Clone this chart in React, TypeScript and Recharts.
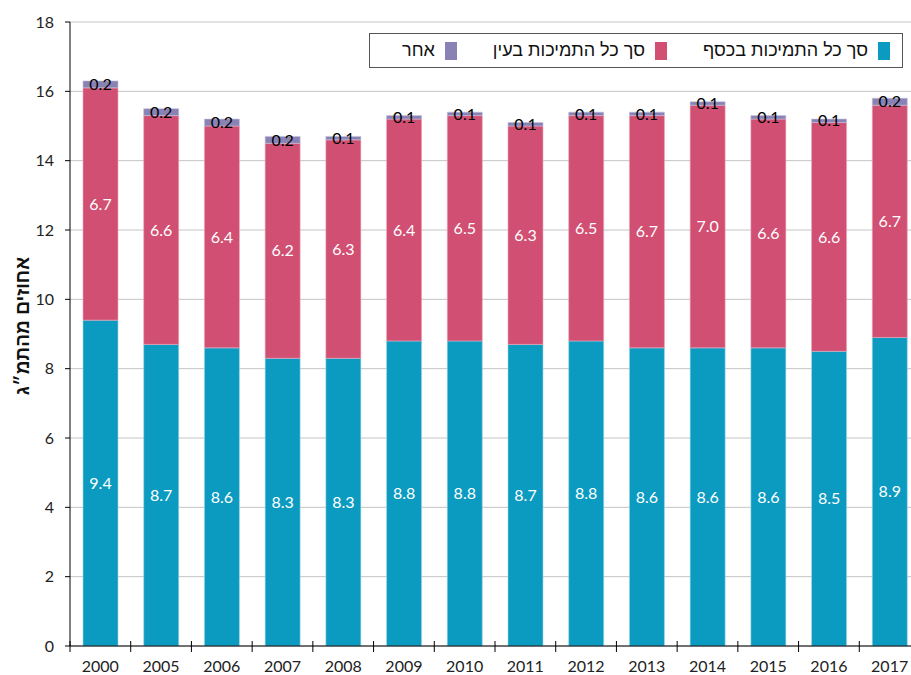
import { BarChart, Bar, XAxis, YAxis, CartesianGrid, Legend, LabelList } from 'recharts';

// years on the category axis
const years = ['2000', '2005', '2006', '2007', '2008', '2009', '2010', '2011', '2012', '2013', '2014', '2015', '2016', '2017'];
// % of GDP
const cash = [9.4, 8.7, 8.6, 8.3, 8.3, 8.8, 8.8, 8.7, 8.8, 8.6, 8.6, 8.6, 8.5, 8.9];
const inKind = [6.7, 6.6, 6.4, 6.2, 6.3, 6.4, 6.5, 6.3, 6.5, 6.7, 7.0, 6.6, 6.6, 6.7];
const other = [0.2, 0.2, 0.2, 0.2, 0.1, 0.1, 0.1, 0.1, 0.1, 0.1, 0.1, 0.1, 0.1, 0.2];
const yTicks = [0, 2, 4, 6, 8, 10, 12, 14, 16, 18];

const seriesNames = {
	cash: 'סך כל התמיכות בכסף',
	inKind: 'סך כל התמיכות בעין',
	other: 'אחר',
};

const COLORS = { cash: '#0B9AC0', inKind: '#D14F72', other: '#8982B5' };

const data = years.map((year, i) => ({
	year,
	cash: cash[i],
	inKind: inKind[i],
	other: other[i],
}));

const W = 925;
const H = 675;
const M = { top: 22, right: 5, bottom: 0, left: 0 };
const X_AXIS_H = 29;
const Y_AXIS_W = 70;
const AXIS_Y = H - M.bottom - X_AXIS_H;
const STEP = (W - M.left - M.right - Y_AXIS_W) / years.length;

const FONT = "Lato, 'Liberation Sans', sans-serif";
const HEB = "'Liberation Sans', 'DejaVu Sans', sans-serif";

function XTick(props: any) {
	const { x, payload } = props;
	return (
		<g>
			<line x1={x - STEP / 2} x2={x - STEP / 2} y1={AXIS_Y - 5} y2={AXIS_Y + 6} stroke="#000" />
			<text x={x} y={AXIS_Y + 26} textAnchor="middle" fontSize={16} fill="#222" fontFamily={FONT}>
				{payload.value}
			</text>
		</g>
	);
}

function LegendBox() {
	const items: [keyof typeof COLORS, string][] = [
		['cash', seriesNames.cash],
		['inKind', seriesNames.inKind],
		['other', seriesNames.other],
	];
	return (
		<div dir="rtl" style={{
			border: '1px solid #555',
			background: '#fff',
			width: 534,
			height: 35,
			boxSizing: 'border-box',
			display: 'flex',
			alignItems: 'center',
			padding: '0 12px 0 0',
			gap: 36,
			fontFamily: HEB,
			fontSize: 18,
			color: '#111',
		}}>
			{items.map(([k, name]) => (
				<div key={k} style={{ display: 'flex', alignItems: 'center', gap: 10 }}>
					<span style={{ display: 'inline-block', width: 12, height: 18, background: COLORS[k] }} />
					<span>{name}</span>
				</div>
			))}
		</div>
	);
}

function YLabel(props: any) {
	const vb = props.viewBox || {};
	const cy = (vb.y ?? M.top) + (vb.height ?? 600) / 2 - 8;
	return (
		<text x={22} y={cy} transform={`rotate(-90 22 ${cy})`} textAnchor="middle" dominantBaseline="central"
			fontSize={19} fontWeight="bold" fill="#111" fontFamily={HEB}>
			אחוזים מהתמ״ג
		</text>
	);
}

export default function App() {
	return (
		<div style={{ position: 'absolute', top: 0, left: 0, width: 911, height: 675, overflow: 'hidden', background: '#fff' }}>
			<BarChart width={W} height={H} data={data} margin={M} barSize={35}>
				<CartesianGrid vertical={false} stroke="#c4c4c4" />
				<XAxis
					dataKey="year"
					height={X_AXIS_H}
					axisLine={{ stroke: '#000' }}
					tickLine={false}
					tick={<XTick />}
					interval={0}
				/>
				<YAxis
					width={Y_AXIS_W}
					domain={[0, 18]}
					ticks={yTicks}
					interval={0}
					axisLine={{ stroke: '#000' }}
					tickLine={{ stroke: '#000' }}
					tickSize={5}
					tickMargin={11}
					tick={{ fontSize: 16, fill: '#222', fontFamily: FONT }}
					label={<YLabel />}
				/>
				<Legend
					content={<LegendBox />}
					layout="horizontal"
					verticalAlign="middle"
					align="center"
					wrapperStyle={{ position: 'absolute', top: 33, left: 369, width: 534 }}
				/>
				<Bar dataKey="cash" name={seriesNames.cash} stackId="a" fill={COLORS.cash} stroke="#9fd6e6" strokeWidth={0.6} isAnimationActive={false}>
					<LabelList dataKey="cash" position="center" fill="#fff" fontSize={16} fontFamily={FONT} formatter={(v: any) => Number(v).toFixed(1)} />
				</Bar>
				<Bar dataKey="inKind" name={seriesNames.inKind} stackId="a" fill={COLORS.inKind} stroke="#eba8b8" strokeWidth={0.6} isAnimationActive={false}>
					<LabelList dataKey="inKind" position="center" fill="#fff" fontSize={16} fontFamily={FONT} formatter={(v: any) => Number(v).toFixed(1)} />
				</Bar>
				<Bar dataKey="other" name={seriesNames.other} stackId="a" fill={COLORS.other} stroke="#c5c1dc" strokeWidth={0.6} isAnimationActive={false}>
					<LabelList dataKey="other" position="center" fill="#000" fontSize={16} fontFamily={FONT} formatter={(v: any) => Number(v).toFixed(1)} />
				</Bar>
			</BarChart>
		</div>
	);
}
